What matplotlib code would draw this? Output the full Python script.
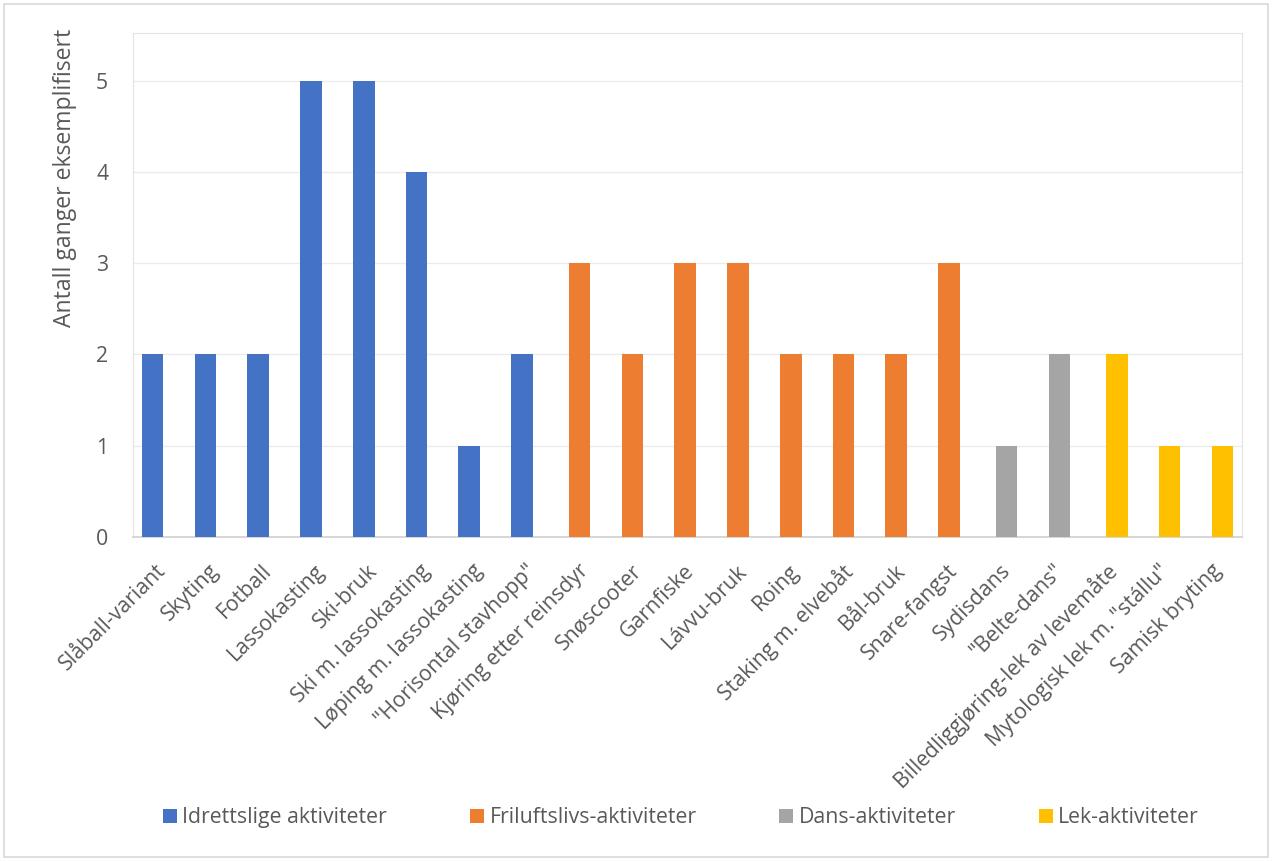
import matplotlib
matplotlib.use("Agg")
import matplotlib.pyplot as plt
import matplotlib.transforms as mtransforms
from matplotlib.patches import Patch, Rectangle
import numpy as np

categories = ["Slåball-variant", "Skyting", "Fotball", "Lassokasting", "Ski-bruk",
              "Ski m. lassokasting", "Løping m. lassokasting", "\"Horisontal stavhopp\"",
              "Kjøring etter reinsdyr", "Snøscooter", "Garnfiske", "Lávvu-bruk", "Roing",
              "Staking m. elvebåt", "Bål-bruk", "Snare-fangst", "Sydisdans", "\"Belte-dans\"",
              "Billedliggjøring-lek av levemåte", "Mytologisk lek m. \"stállu\"", "Samisk bryting"]
values = [2, 2, 2, 5, 5, 4, 1, 2, 3, 2, 3, 3, 2, 2, 2, 3, 1, 2, 2, 1, 1]
groups = [0]*8 + [1]*8 + [2]*2 + [3]*3
series_names = ["Idrettslige aktiviteter", "Friluftslivs-aktiviteter", "Dans-aktiviteter", "Lek-aktiviteter"]
series_colors = ["#4472C4", "#ED7D31", "#A5A5A5", "#FFC000"]
ylabel = "Antall ganger eksemplifisert"
yticks = [0, 1, 2, 3, 4, 5]

plt.rcParams['font.family'] = ['Open Sans', 'DejaVu Sans']
txt = "#595959"
FS = 15.3

fig = plt.figure(figsize=(12.72, 8.61), dpi=100)
fig.patches.append(Rectangle((4/1272, 4/861), 1 - 8/1272, 1 - 8/861, transform=fig.transFigure,
                             fill=False, edgecolor="#d9d9d9", linewidth=1.2))
ax = fig.add_axes([133.3/1272, 1-536.7/861, (1241.7-133.3)/1272, (536.7-33.3)/861])

n = len(categories)
x = np.arange(n)
width = 0.41
step = 0.09
for g in range(4):
    idx = [i for i in range(n) if groups[i] == g]
    ax.bar(x[idx] + (g - 1.5)*step, [values[i] for i in idx], width=width,
           color=series_colors[g], zorder=3, label=series_names[g])

ax.set_xlim(-0.5, n - 0.5)
ax.set_ylim(0, 5.52)
ax.set_yticks(yticks)
ax.yaxis.grid(True, color="#ebebeb", linewidth=1.0, zorder=0)
ax.set_axisbelow(True)
for s in ["left", "top", "right"]:
    ax.spines[s].set_color("#e3e3e3")
ax.spines["bottom"].set_color("#d0d0d0")
ax.spines["bottom"].set_linewidth(1.2)
ax.tick_params(axis="both", length=0, colors=txt)
ax.tick_params(axis="y", labelsize=FS, pad=18)
ax.set_xticks(x)
ax.set_xticklabels(categories, rotation=45, ha="right", va="top", rotation_mode="anchor",
                   fontsize=FS, color=txt)
ax.tick_params(axis="x", pad=17)
offset = mtransforms.ScaledTranslation(-4/100, 0, fig.dpi_scale_trans)
for lab in ax.get_xticklabels():
    lab.set_transform(lab.get_transform() + offset)
ax.set_ylabel(ylabel, fontsize=16.6, color=txt, loc="top")
ax.yaxis.set_label_coords(-0.051, 1.009)

handles = [Patch(facecolor=c, edgecolor='none') for c in series_colors]
leg = fig.legend(handles, series_names, loc="center", bbox_to_anchor=(681/1272, 1-817.7/861), ncol=4,
                 frameon=False, fontsize=FS, handlelength=0.66, handleheight=0.66,
                 handletextpad=0.25, columnspacing=3.9, labelcolor=txt)

fig.savefig("out.png", dpi=100)
